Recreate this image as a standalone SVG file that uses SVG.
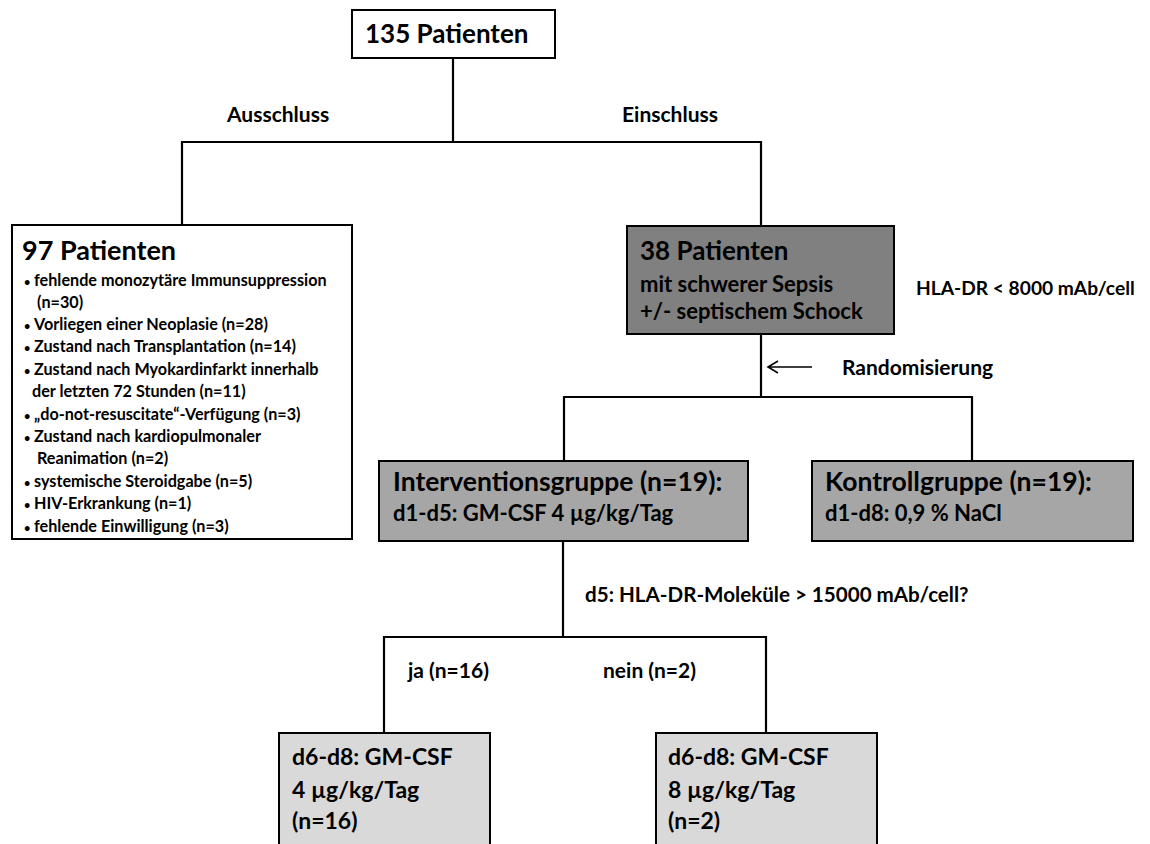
<svg xmlns="http://www.w3.org/2000/svg" width="1150" height="844" viewBox="0 0 1150 844">
<style>
text{font-family:Lato,"Liberation Sans",sans-serif;font-weight:bold;fill:#000}
.box{stroke:#000;stroke-width:2}
.w{fill:#fff}.d{fill:#808080}.m{fill:#a6a6a6}.l{fill:#d9d9d9}
.c{fill:none;stroke:#000;stroke-width:2.2}
.t27{font-size:27px}.t26{font-size:26px}.t23{font-size:23px}.t22{font-size:22px}.t21{font-size:21px}.li{font-size:16.2px}
.b{font-size:11px}
</style>
<rect width="1150" height="844" fill="#fff"/>
<g id="connectors">
<path class="c" d="M453,58V142M182,225V142H761V225"/>
<path class="c" d="M761,334V397M564,461V397H972V461"/>
<path class="c" d="M563,541V637M384,733V637H766V733"/>
<path fill="none" stroke="#000" stroke-width="1.6" d="M812,367H768M778,361L768,367L778,373"/>
</g>
<g id="labels">
<text class="t21" x="227" y="122">Ausschluss</text>
<text class="t21" x="622" y="122">Einschluss</text>
<text style="font-size:19.2px" x="916" y="295">HLA-DR &lt; 8000 mAb/cell</text>
<text class="t21" x="842" y="375">Randomisierung</text>
<text style="font-size:20.6px" x="585" y="602">d5: HLA-DR-Moleküle &gt; 15000 mAb/cell?</text>
<text class="t21" x="408" y="678">ja (n=16)</text>
<text class="t21" x="603" y="678">nein (n=2)</text>
</g>
<g id="n135">
<rect class="box w" x="352" y="10" width="203" height="48"/>
<text class="t26" x="365" y="43">135 Patienten</text>
</g>
<g id="n97">
<rect class="box w" x="12" y="225" width="340" height="314"/>
<text class="t27" x="22" y="260">97 Patienten</text>
<g class="li">
<text x="24" y="286"><tspan class="b">•</tspan><tspan x="34">fehlende monozytäre Immunsuppression</tspan></text>
<text x="37" y="308">(n=30)</text>
<text x="24" y="330"><tspan class="b">•</tspan><tspan x="34">Vorliegen einer Neoplasie (n=28)</tspan></text>
<text x="24" y="352"><tspan class="b">•</tspan><tspan x="34">Zustand nach Transplantation (n=14)</tspan></text>
<text x="24" y="375"><tspan class="b">•</tspan><tspan x="34">Zustand nach Myokardinfarkt innerhalb</tspan></text>
<text x="32" y="397">der letzten 72 Stunden (n=11)</text>
<text x="24" y="420"><tspan class="b">•</tspan><tspan x="34">„do-not-resuscitate“-Verfügung (n=3)</tspan></text>
<text x="24" y="442"><tspan class="b">•</tspan><tspan x="34">Zustand nach kardiopulmonaler</tspan></text>
<text x="37" y="464">Reanimation (n=2)</text>
<text x="24" y="487"><tspan class="b">•</tspan><tspan x="34">systemische Steroidgabe (n=5)</tspan></text>
<text x="24" y="509"><tspan class="b">•</tspan><tspan x="34">HIV-Erkrankung (n=1)</tspan></text>
<text x="24" y="532"><tspan class="b">•</tspan><tspan x="34">fehlende Einwilligung (n=3)</tspan></text>
</g>
</g>
<g id="n38">
<rect class="box d" x="627" y="226" width="267" height="108"/>
<text class="t26" x="640" y="260">38 Patienten</text>
<text class="t22" x="640" y="292">mit schwerer Sepsis</text>
<text class="t22" x="640" y="319">+/- septischem Schock</text>
</g>
<g id="nInterv">
<rect class="box m" x="379" y="461" width="369" height="80"/>
<text style="font-size:26.5px" x="393" y="491">Interventionsgruppe (n=19):</text>
<text class="t22" x="393" y="521">d1-d5: GM-CSF 4 µg/kg/Tag</text>
</g>
<g id="nKontroll">
<rect class="box m" x="812" y="461" width="321" height="80"/>
<text style="font-size:26.5px" x="825" y="491">Kontrollgruppe (n=19):</text>
<text class="t22" x="825" y="521">d1-d8: 0,9 % NaCl</text>
</g>
<g id="nJa">
<rect class="box l" x="279" y="733" width="211" height="120"/>
<text class="t23" x="292" y="765">d6-d8: GM-CSF</text>
<text class="t23" x="292" y="798">4 µg/kg/Tag</text>
<text class="t23" x="292" y="829">(n=16)</text>
</g>
<g id="nNein">
<rect class="box l" x="656" y="733" width="221" height="120"/>
<text class="t23" x="668" y="765">d6-d8: GM-CSF</text>
<text class="t23" x="668" y="798">8 µg/kg/Tag</text>
<text class="t23" x="668" y="829">(n=2)</text>
</g>
</svg>
